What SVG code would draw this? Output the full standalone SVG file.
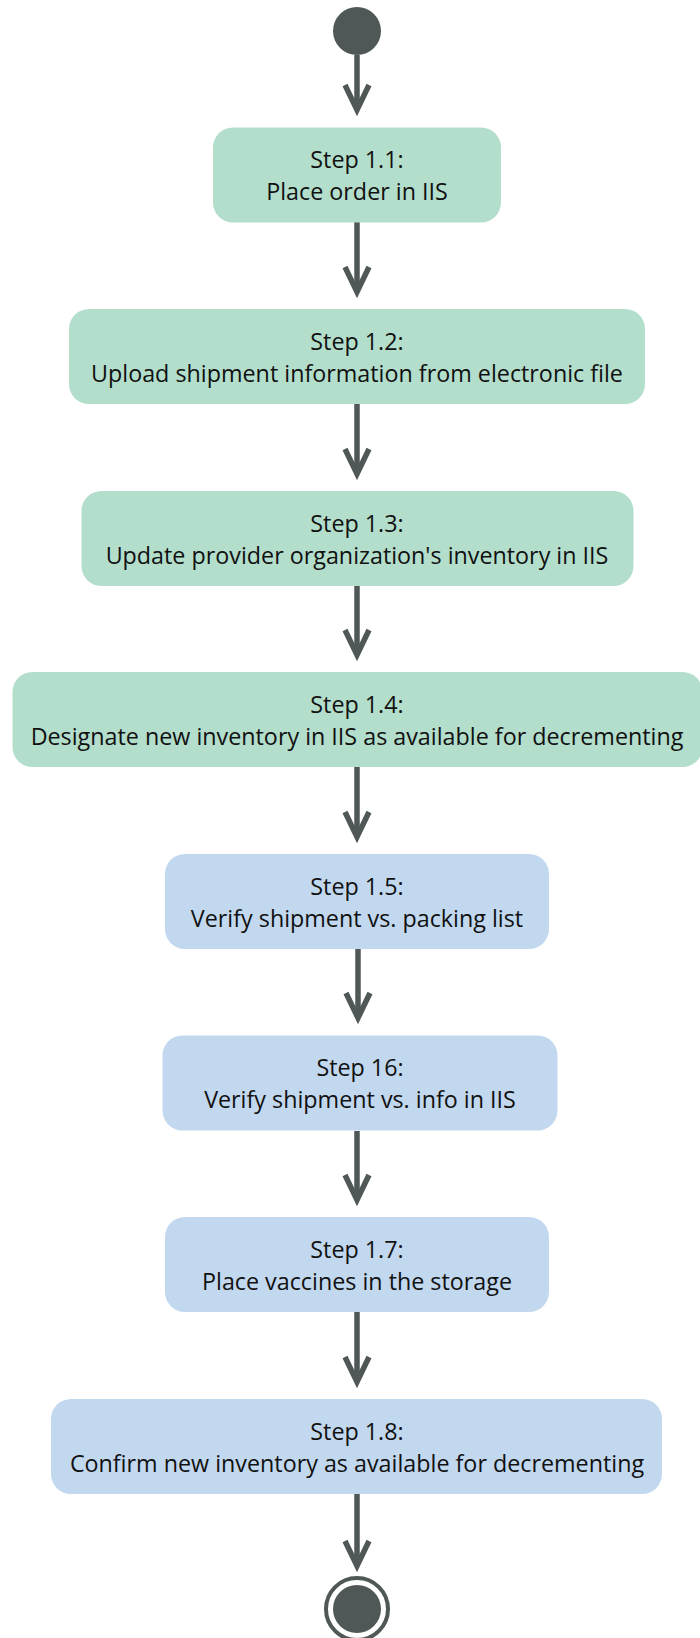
<svg xmlns="http://www.w3.org/2000/svg" width="700" height="1638" viewBox="0 0 700 1638">
<defs>
<style>
.g{fill:#b3decc}
.b{fill:#c2d8ef}
.t{font-family:"Open Sans","Noto Sans","Liberation Sans",sans-serif;font-size:23.3px;fill:#111;text-anchor:middle}
.c{stroke:#4f5857;stroke-width:5.5;fill:none}
</style>
<marker id="ah" markerUnits="userSpaceOnUse" orient="auto" refX="0" refY="0" markerWidth="60" markerHeight="60" viewBox="-40 -20 60 40" overflow="visible">
<path d="M-25,-12 L0,0 L-25,12" fill="none" stroke="#4f5857" stroke-width="5.5" stroke-miterlimit="10"/>
</marker>
</defs>
<rect width="700" height="1638" fill="#ffffff"/>
<g id="connectors">
<path class="c" d="M357,55 V110" marker-end="url(#ah)"/>
<path class="c" d="M357,222 V292" marker-end="url(#ah)"/>
<path class="c" d="M357,404 V474" marker-end="url(#ah)"/>
<path class="c" d="M357,586 V655" marker-end="url(#ah)"/>
<path class="c" d="M357,767 V837" marker-end="url(#ah)"/>
<path class="c" d="M358,949 V1018" marker-end="url(#ah)"/>
<path class="c" d="M357,1131 V1200" marker-end="url(#ah)"/>
<path class="c" d="M357,1312 V1382" marker-end="url(#ah)"/>
<path class="c" d="M357,1494 V1566" marker-end="url(#ah)"/>
</g>
<g id="start"><circle cx="357" cy="31" r="24" fill="#4f5857"/></g>
<g id="step11"><rect class="g" x="213" y="127.5" width="288" height="95" rx="20"/>
<text class="t" x="357" y="168">Step 1.1:</text><text class="t" x="357" y="200">Place order in IIS</text></g>
<g id="step12"><rect class="g" x="69" y="309" width="576" height="95" rx="20"/>
<text class="t" x="357" y="349.5">Step 1.2:</text><text class="t" x="357" y="381.5">Upload shipment information from electronic file</text></g>
<g id="step13"><rect class="g" x="81.5" y="491" width="552" height="95" rx="20"/>
<text class="t" x="357" y="531.5">Step 1.3:</text><text class="t" x="357" y="563.5">Update provider organization's inventory in IIS</text></g>
<g id="step14"><rect class="g" x="12.5" y="672" width="690" height="95" rx="20"/>
<text class="t" x="357" y="712.5">Step 1.4:</text><text class="t" x="357" y="744.5">Designate new inventory in IIS as available for decrementing</text></g>
<g id="step15"><rect class="b" x="165" y="854" width="384" height="95" rx="20"/>
<text class="t" x="357" y="894.5">Step 1.5:</text><text class="t" x="357" y="926.5">Verify shipment vs. packing list</text></g>
<g id="step16"><rect class="b" x="162.5" y="1035.5" width="395" height="95" rx="20"/>
<text class="t" x="360" y="1076">Step 16:</text><text class="t" x="360" y="1108">Verify shipment vs. info in IIS</text></g>
<g id="step17"><rect class="b" x="165" y="1217" width="384" height="95" rx="20"/>
<text class="t" x="357" y="1257.5">Step 1.7:</text><text class="t" x="357" y="1289.5">Place vaccines in the storage</text></g>
<g id="step18"><rect class="b" x="51" y="1399" width="611" height="95" rx="20"/>
<text class="t" x="357" y="1440">Step 1.8:</text><text class="t" x="357" y="1472">Confirm new inventory as available for decrementing</text></g>
<g id="end"><circle cx="357" cy="1609" r="31" fill="none" stroke="#4f5857" stroke-width="4"/><circle cx="357" cy="1609" r="24" fill="#4f5857"/></g>
</svg>
